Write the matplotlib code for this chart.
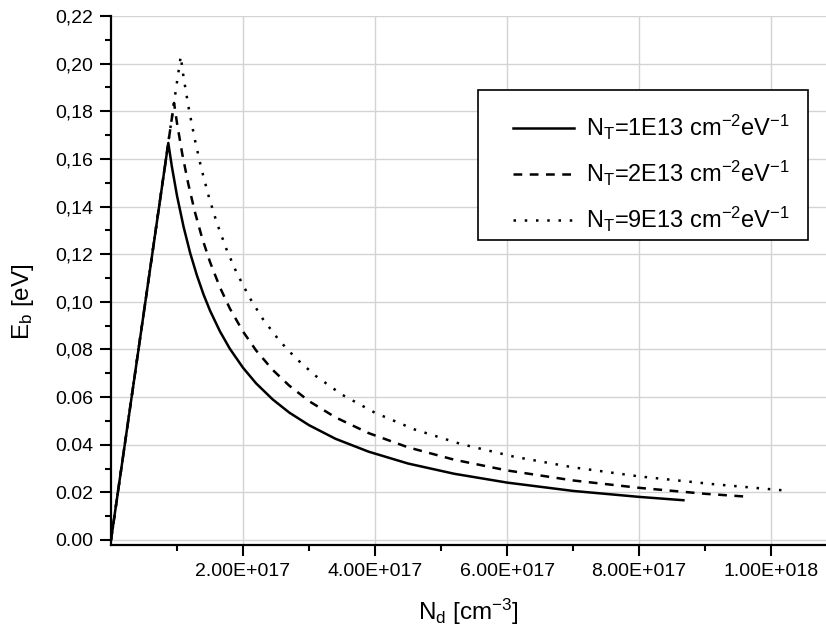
import matplotlib
matplotlib.use("Agg")
import matplotlib.pyplot as plt
from matplotlib.ticker import FixedLocator, FixedFormatter
from matplotlib.patches import Rectangle

plt.rcParams['font.family'] = ['Liberation Sans', 'DejaVu Sans']
plt.rcParams['mathtext.fontset'] = 'custom'
plt.rcParams['mathtext.rm'] = 'Liberation Sans'
plt.rcParams['mathtext.it'] = 'Liberation Sans'

# ---- data ----
nd_1 = [0, 0.868e17, 0.92e17, 1.0e17, 1.1e17, 1.2e17, 1.3e17, 1.4e17, 1.5e17, 1.65e17,
        1.8e17, 2.0e17, 2.2e17, 2.45e17, 2.7e17, 3.0e17, 3.4e17, 3.9e17, 4.5e17, 5.2e17,
        6.0e17, 7.0e17, 8.0e17, 8.67e17]
eb_1 = [0, 0.1667, 0.1571, 0.1445, 0.1314, 0.1204, 0.1112, 0.1032, 0.0963, 0.0876,
        0.0803, 0.0723, 0.0657, 0.0590, 0.0535, 0.0482, 0.0425, 0.0371, 0.0321, 0.0278,
        0.0241, 0.0206, 0.0181, 0.0167]

nd_2 = [0, 0.955e17, 1.0e17, 1.08e17, 1.17e17, 1.27e17, 1.38e17, 1.5e17, 1.65e17, 1.8e17,
        2.0e17, 2.2e17, 2.45e17, 2.7e17, 3.0e17, 3.4e17, 3.9e17, 4.5e17, 5.2e17, 6.0e17,
        7.0e17, 8.0e17, 9.0e17, 9.68e17]
eb_2 = [0, 0.1835, 0.1750, 0.1620, 0.1496, 0.1378, 0.1268, 0.1167, 0.1061, 0.0972,
        0.0875, 0.0795, 0.0714, 0.0648, 0.0583, 0.0515, 0.0449, 0.0389, 0.0337, 0.0292,
        0.0250, 0.0219, 0.0194, 0.0181]

nd_3 = [0, 1.056e17, 1.1e17, 1.18e17, 1.27e17, 1.37e17, 1.48e17, 1.6e17, 1.75e17, 1.9e17,
        2.1e17, 2.3e17, 2.55e17, 2.8e17, 3.1e17, 3.5e17, 4.0e17, 4.6e17, 5.3e17, 6.1e17,
        7.0e17, 8.0e17, 9.1e17, 10.24e17]
eb_3 = [0, 0.2031, 0.1941, 0.1809, 0.1681, 0.1558, 0.1443, 0.1334, 0.1220, 0.1124,
        0.1017, 0.0928, 0.0837, 0.0763, 0.0689, 0.0610, 0.0534, 0.0464, 0.0403, 0.0350,
        0.0305, 0.0267, 0.0235, 0.0207]

series_labels = [r'$\mathregular{N_T}$=1E13 cm$\mathregular{^{-2}}$eV$\mathregular{^{-1}}$',
                 r'$\mathregular{N_T}$=2E13 cm$\mathregular{^{-2}}$eV$\mathregular{^{-1}}$',
                 r'$\mathregular{N_T}$=9E13 cm$\mathregular{^{-2}}$eV$\mathregular{^{-1}}$']

x_ticks = [2e17, 4e17, 6e17, 8e17, 1e18]
x_tick_labels = ['2.00E+017', '4.00E+017', '6.00E+017', '8.00E+017', '1.00E+018']
y_ticks = [0.00, 0.02, 0.04, 0.06, 0.08, 0.10, 0.12, 0.14, 0.16, 0.18, 0.20, 0.22]
y_tick_labels = ['0.00', '0.02', '0.04', '0.06', '0,08', '0,10', '0,12', '0,14',
                 '0,16', '0,18', '0,20', '0,22']

# ---- figure ----
W, H = 826, 637
fig = plt.figure(figsize=(W / 100, H / 100), dpi=100)
ax = fig.add_axes([111/W, 92/H, 1 - 111/W, (545-16)/H])

lw = 1.8
ax.plot(nd_1, eb_1, color='black', lw=lw, linestyle='-', label=series_labels[0])
ax.plot(nd_2, eb_2, color='black', lw=lw, linestyle=(0, (3.5, 3.0)), label=series_labels[1])
ax.plot(nd_3, eb_3, color='black', lw=lw, linestyle=(0, (1, 3.5)), label=series_labels[2])

ax.set_xlim(0, 10.83e17)
ax.set_ylim(-0.0021, 0.22)

ax.xaxis.set_major_locator(FixedLocator(x_ticks))
ax.xaxis.set_major_formatter(FixedFormatter(x_tick_labels))
ax.xaxis.set_minor_locator(FixedLocator([1e17, 3e17, 5e17, 7e17, 9e17]))
ax.yaxis.set_major_locator(FixedLocator(y_ticks))
ax.yaxis.set_major_formatter(FixedFormatter(y_tick_labels))
ax.yaxis.set_minor_locator(FixedLocator([0.01 + 0.02 * i for i in range(11)]))

ax.tick_params(which='major', direction='out', length=8, width=1.5, labelsize=14, pad=5)
ax.tick_params(which='minor', direction='out', length=4.5, width=1.5)

for s in ['top', 'right']:
    ax.spines[s].set_visible(False)
for s in ['left', 'bottom']:
    ax.spines[s].set_linewidth(1.6)

ax.grid(True, which='major', color='#d3d3d3', lw=1.0)
ax.set_axisbelow(True)

ax.set_xlabel(r'$\mathregular{N_d}$ [cm$\mathregular{^{-3}}$]', fontsize=17.5, labelpad=12)
ax.set_ylabel(r'$\mathregular{E_b}$ [eV]', fontsize=17.5)
ax.yaxis.set_label_coords((36 - 111) / 715, (545 - 302) / 529)

# legend frame (drawn separately so its padding can match the reference)
ax.add_patch(Rectangle(((478 - 111) / 715, (545 - 240) / 529), 330 / 715, 150 / 529,
                       transform=ax.transAxes, facecolor='white', edgecolor='black',
                       lw=1.2, zorder=4))
leg = ax.legend(loc='upper left', bbox_to_anchor=((513 - 111) / 715, (545 - 113) / 529),
                fontsize=17, frameon=False, handlelength=2.6, handletextpad=0.5,
                borderpad=0, labelspacing=0.72, borderaxespad=0)
leg.set_zorder(5)

fig.savefig('out.png', dpi=100)
